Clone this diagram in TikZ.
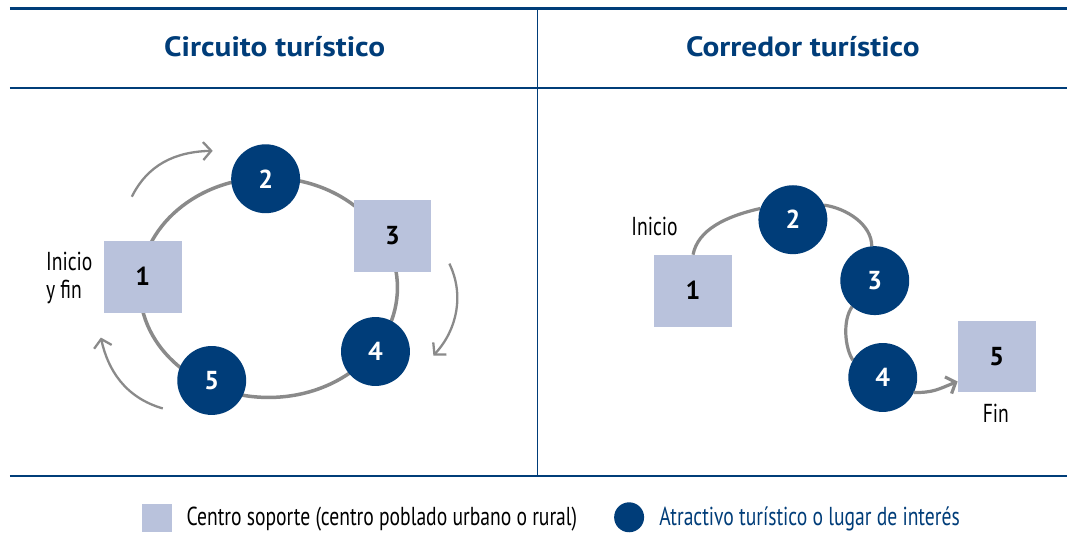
\documentclass[tikz,border=0pt]{standalone}
\usepackage{fontspec}
\setmainfont{PT Sans}
\newfontfamily\condfont[FakeStretch=0.755]{PT Sans}
\newfontfamily\titlefont[FakeStretch=1.12]{PT Sans}
\usetikzlibrary{arrows.meta,backgrounds,calc}
\definecolor{navy}{RGB}{0,61,121}
\definecolor{lav}{RGB}{185,194,220}
\definecolor{ringgray}{RGB}{138,138,138}
\begin{document}
\begin{tikzpicture}[x=1pt,y=-1pt,
  support/.style={rectangle,fill=lav,minimum width=78pt,minimum height=72pt,inner sep=0pt,outer sep=0pt,font=\bfseries\fontsize{26}{28}\selectfont,text=black},
  attract/.style={circle,fill=navy,minimum size=69pt,inner sep=0pt,outer sep=0pt,font=\bfseries\fontsize{26}{28}\selectfont,text=white},
  ring/.style={draw=ringgray,line width=3.5pt},
  path/.style={draw=ringgray,line width=3.2pt},
  flow/.style={draw=ringgray,line width=2.3pt,-{Straight Barb[length=8pt,width=18pt]}},
  titletext/.style={font=\titlefont\bfseries\fontsize{28}{30}\selectfont,text=navy,inner sep=0pt,anchor=base},
  lbl/.style={font=\condfont\fontsize{26}{28.7}\selectfont,inner sep=0pt},
  legsq/.style={rectangle,fill=lav,minimum width=30pt,minimum height=28pt,inner sep=0pt},
  legci/.style={circle,fill=navy,minimum size=30pt,inner sep=0pt},
]
% canvas
\begin{scope}[on background layer]
\fill[white] (0,0) rectangle (1068,549);
\end{scope}
% rules
\draw[navy,line width=3pt] (10,9) -- (1068,9);
\draw[navy,line width=2.5pt] (10,88) -- (1068,88);
\draw[navy,line width=2pt] (10,477) -- (1068,477);
\draw[navy,line width=1.5pt] (538,9) -- (538,477);
% titles
\node[titletext] (t1) at (275,57) {Circuito turístico};
\node[titletext] (t2) at (804,57) {Corredor turístico};

% ---------- circuit ----------
\coordinate (ringc) at (269,288);
\draw[ring] (ringc) ellipse [x radius=129pt, y radius=110pt];
\node[support] (c1) at (143,277) {1};
\node[attract] (c2) at (266,179) {2};
\node[support] (c3) at (393,236) {3};
\node[attract] (c4) at (376,352) {4};
\node[attract] (c5) at (212,381) {5};
\node[lbl,anchor=north west,align=left] (cl) at (46,252) {Inicio\\y fin};
\coordinate (a1s) at (132,197); \coordinate (a1e) at (213,151);
\coordinate (a2s) at (450,264); \coordinate (a2e) at (434,356);
\coordinate (a3s) at (163,409); \coordinate (a3e) at (101,338);
\draw[flow] (a1s) .. controls (148,165) and (175,152) .. (a1e);
\draw[flow] (a2s) .. controls (465,295) and (458,330) .. (a2e);
\draw[flow] (a3s) .. controls (125,398) and (108,370) .. (a3e);

% ---------- corridor ----------
\node[support] (r1) at (694,291) {1};
\node[attract] (r2) at (794,220) {2};
\node[attract] (r3) at (876,281) {3};
\node[attract] (r4) at (884,378) {4};
\node[support] (r5) at (998,357) {5};
\coordinate (r5in) at ($(r5.south west)+(0,-11)$);
\node[lbl,anchor=base west] (rl1) at (632,236) {Inicio};
\node[lbl,anchor=base west] (rl2) at (984,423) {Fin};
\begin{scope}[on background layer]
\draw[path] (r1.north) .. controls +(5,-25) and +(-35,8) .. (r2.161);
\draw[path] (r2.25) .. controls +(22,3) and +(0,-22) .. (r3.95);
\draw[path] (r3.229) .. controls +(-10,14) and +(-8,-12) .. (r4.150);
\end{scope}
\draw[path,-{Straight Barb[length=8pt,width=18pt]}] (r4.-26) .. controls +(20,0) and +(-20,8) .. (r5in);

% ---------- legend ----------
\node[legsq] (ls) at (157.5,519) {};
\node[lbl,anchor=base west] (lst) at (186.7,526.7) {Centro soporte (centro poblado urbano o rural)};
\node[legci] (lc) at (630,518) {};
\node[lbl,anchor=base west,text=navy] (lct) at (660,526.7) {Atractivo turístico o lugar de interés};
\end{tikzpicture}
\end{document}
